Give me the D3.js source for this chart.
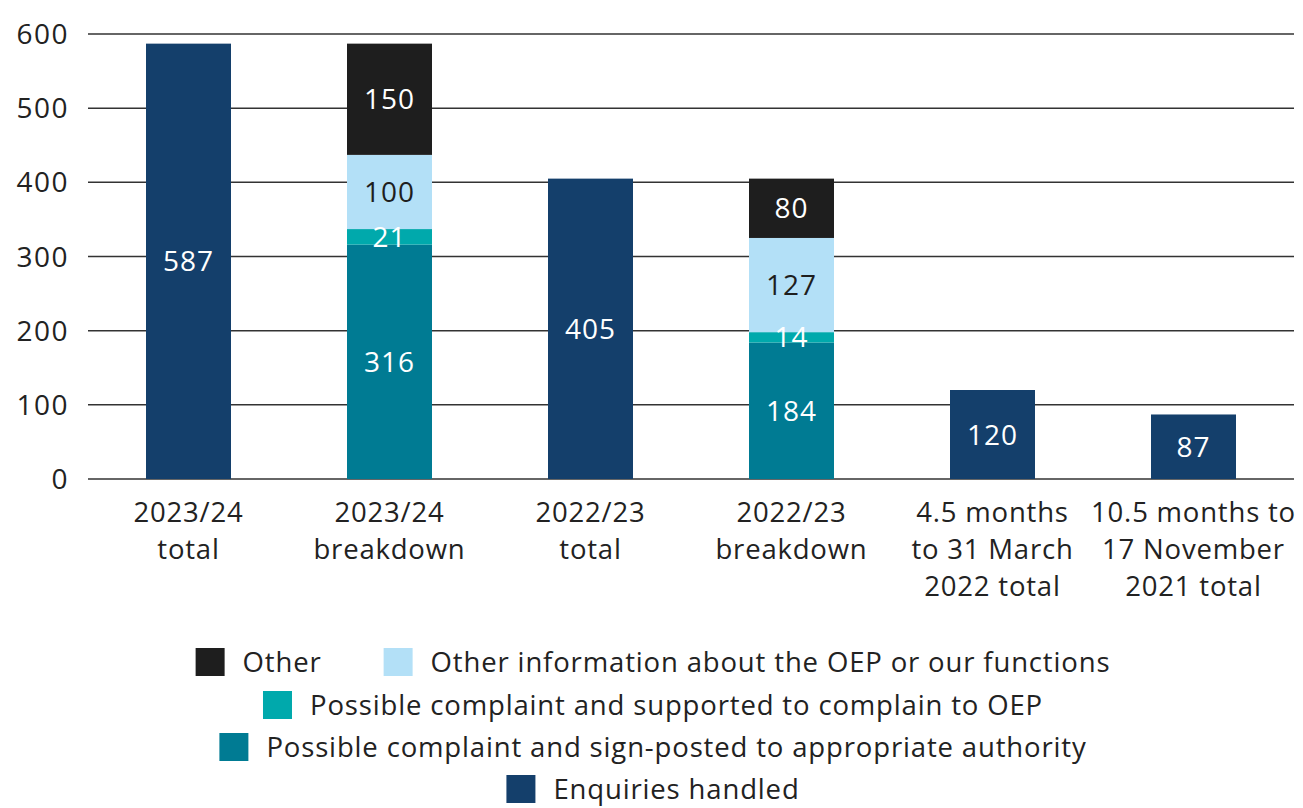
<!DOCTYPE html>
<meta charset="utf-8">
<style>
body { margin: 0; background: #fff; }
svg text { font-family: "Open Sans", Lato, sans-serif; }
</style>
<script src="https://d3js.org/d3.v7.min.js"></script>
<div id="chart"></div>
<script>
// data
var categories = ["2023/24 total", "2023/24 breakdown", "2022/23 total", "2022/23 breakdown",
                  "4.5 months to 31 March 2022 total", "10.5 months to 17 November 2021 total"];
var categoryLines = [["2023/24", "total"], ["2023/24", "breakdown"], ["2022/23", "total"],
                     ["2022/23", "breakdown"], ["4.5 months", "to 31 March", "2022 total"],
                     ["10.5 months to", "17 November", "2021 total"]];
var seriesNames = ["Enquiries handled",
                   "Possible complaint and sign-posted to appropriate authority",
                   "Possible complaint and supported to complain to OEP",
                   "Other information about the OEP or our functions",
                   "Other"];
var enquiries  = [587, 0, 405, 0, 120, 87];
var signPosted = [0, 316, 0, 184, 0, 0];
var supported  = [0, 21, 0, 14, 0, 0];
var otherInfo  = [0, 100, 0, 127, 0, 0];
var other      = [0, 150, 0, 80, 0, 0];
var yTicks = [0, 100, 200, 300, 400, 500, 600];

var colors = ["#143f6b", "#007b93", "#00a9ac", "#b3e0f7", "#1e1e1e"];
var labelColors = ["#fff", "#fff", "#fff", "#1e1e1e", "#fff"];

var W = 1303, H = 808;
var svg = d3.select("#chart").append("svg").attr("width", W).attr("height", H);

var x = d3.scaleBand().domain(categories).range([88, 1294]);
var y = d3.scaleLinear().domain([0, 600]).range([479, 34]);
var barW = 85;

// gridlines + y labels
var yAxis = svg.append("g");
yAxis.selectAll("line").data(yTicks).enter().append("line")
  .attr("x1", 88).attr("x2", 1294)
  .attr("y1", function(d) { return y(d); }).attr("y2", function(d) { return y(d); })
  .attr("stroke", "#333").attr("stroke-width", 1.5);
yAxis.selectAll("text").data(yTicks).enter().append("text")
  .attr("x", 69).attr("y", function(d) { return y(d); })
  .attr("dy", "0.36em").attr("text-anchor", "end")
  .attr("font-size", 28).attr("letter-spacing", 1.5).attr("fill", "#222")
  .text(function(d) { return d; });

// stack data
var seriesValues = [enquiries, signPosted, supported, otherInfo, other];
var segs = [];
categories.forEach(function(c, i) {
  var base = 0;
  seriesValues.forEach(function(vals, s) {
    var v = vals[i];
    if (v > 0) {
      segs.push({cat: c, s: s, y0: base, y1: base + v, v: v});
      base += v;
    }
  });
});

var g = svg.append("g");
g.selectAll("rect").data(segs).enter().append("rect")
  .attr("x", function(d) { return x(d.cat) + x.bandwidth() / 2 - barW / 2; })
  .attr("width", barW)
  .attr("y", function(d) { return y(d.y1); })
  .attr("height", function(d) { return y(d.y0) - y(d.y1); })
  .attr("fill", function(d) { return colors[d.s]; });

g.selectAll("text").data(segs).enter().append("text")
  .attr("x", function(d) { return x(d.cat) + x.bandwidth() / 2; })
  .attr("y", function(d) { return y((d.y0 + d.y1) / 2); })
  .attr("dy", "0.36em").attr("text-anchor", "middle")
  .attr("font-size", 28).attr("letter-spacing", 1)
  .attr("fill", function(d) { return labelColors[d.s]; })
  .text(function(d) { return d.v; });

// x labels
var xl = svg.append("g");
categories.forEach(function(c, i) {
  var t = xl.append("text")
    .attr("x", x(c) + x.bandwidth() / 2).attr("y", 512)
    .attr("text-anchor", "middle").attr("font-size", 27.5)
    .attr("letter-spacing", 0.8).attr("fill", "#222");
  categoryLines[i].forEach(function(line, j) {
    t.append("tspan").attr("x", x(c) + x.bandwidth() / 2)
      .attr("y", 512 + j * 37).attr("dy", "0.36em").text(line);
  });
});

// legend
var rows = [[4, 3], [2], [1], [0]];
var rowY = [662, 705, 747, 789];
var leg = svg.append("g");
rows.forEach(function(row, r) {
  var rg = leg.append("g");
  var cx = 0;
  row.forEach(function(s, k) {
    if (k > 0) cx += 62;
    rg.append("rect").attr("x", cx).attr("y", rowY[r] - 14)
      .attr("width", 29).attr("height", 28).attr("fill", colors[s]);
    var t = rg.append("text").attr("x", cx + 47).attr("y", rowY[r])
      .attr("dy", "0.36em").attr("font-size", 27.5)
      .attr("letter-spacing", 0.85).attr("fill", "#222")
      .text(seriesNames[s]);
    cx += 47 + t.node().getComputedTextLength();
  });
  rg.attr("transform", "translate(" + (653 - cx / 2) + ",0)");
});
</script>
